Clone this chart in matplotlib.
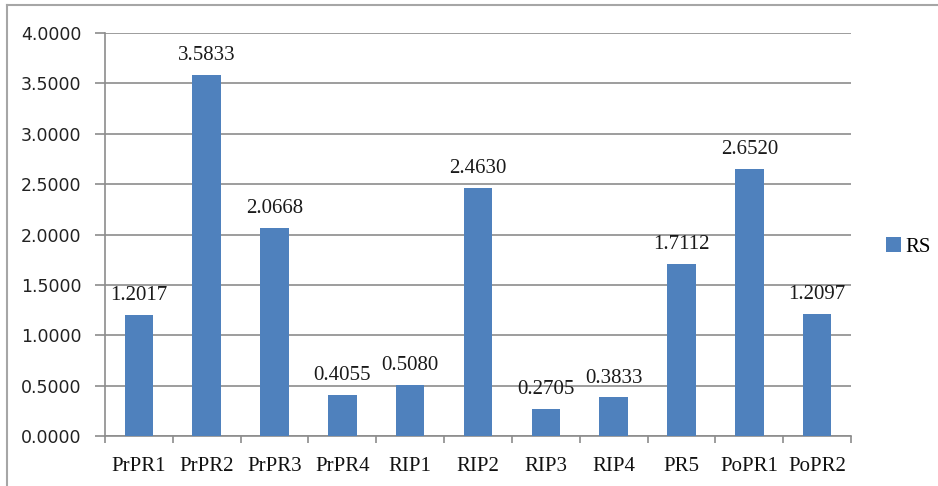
import numpy as np
import matplotlib
matplotlib.use('Agg')
import matplotlib.pyplot as plt
from matplotlib.lines import Line2D
from matplotlib.patches import Patch

# Chart data
categories = ['PrPR1', 'PrPR2', 'PrPR3', 'PrPR4', 'RIP1', 'RIP2', 'RIP3', 'RIP4', 'PR5', 'PoPR1', 'PoPR2']
rs_values = [1.2017, 3.5833, 2.0668, 0.4055, 0.5080, 2.4630, 0.2705, 0.3833, 1.7112, 2.6520, 1.2097]
y_ticks = [0.0, 0.5, 1.0, 1.5, 2.0, 2.5, 3.0, 3.5, 4.0]

bar_color = '#4F81BD'
grid_color = '#8C8C8C'

fig = plt.figure(figsize=(9.38, 4.86), dpi=100)
ax = fig.add_axes([105/938, 1-436/486, (851-105)/938, (436-33)/486])

x = np.arange(len(categories))
bars = ax.bar(x, rs_values, width=0.42, color=bar_color, zorder=3)

# Value labels above the bars
ax.bar_label(bars, labels=['%.4f' % v for v in rs_values], padding=7,
             fontsize=15, family='Liberation Serif', color='#1a1a1a')

ax.set_xlim(-0.5, len(categories) - 0.5)
ax.set_ylim(0, 4)
ax.set_yticks(y_ticks)
ax.set_yticklabels(['%.4f' % t for t in y_ticks], fontsize=12.5, family='DejaVu Sans', color='#222222')
ax.yaxis.grid(True, color=grid_color, linewidth=1.2, zorder=0)

# Category labels at centers, tick marks at boundaries
ax.set_xticks(x)
ax.set_xticklabels(categories, fontsize=15, family='Liberation Serif', color='#111111')
ax.set_xticks(np.arange(len(categories) + 1) - 0.5, minor=True)
ax.tick_params(axis='x', which='major', length=0, pad=15)
ax.tick_params(axis='x', which='minor', length=5, width=1.2, color=grid_color)
ax.tick_params(axis='y', length=7, width=1.2, color=grid_color, pad=10)

for side in ['top', 'right']:
    ax.spines[side].set_visible(False)
for side in ['left', 'bottom']:
    ax.spines[side].set_color(grid_color)
    ax.spines[side].set_linewidth(1.2)

# Legend
handle = Patch(facecolor=bar_color, edgecolor='none')
fig.legend([handle], ['RS'], loc='center left', bbox_to_anchor=(876/938, 1-247/486),
           frameon=False, handlelength=0.7, handleheight=0.7, handletextpad=0.2,
           borderpad=0, prop={'family': 'Liberation Serif', 'size': 15})

# Outer chart border (top and left edges visible)
fig.add_artist(Line2D([7/938, 1], [1-5/486, 1-5/486], transform=fig.transFigure,
                      color='#A6A6A6', linewidth=1.5))
fig.add_artist(Line2D([7/938, 7/938], [0, 1-5/486], transform=fig.transFigure,
                      color='#A6A6A6', linewidth=1.5))

fig.savefig('out.png', dpi=100)
